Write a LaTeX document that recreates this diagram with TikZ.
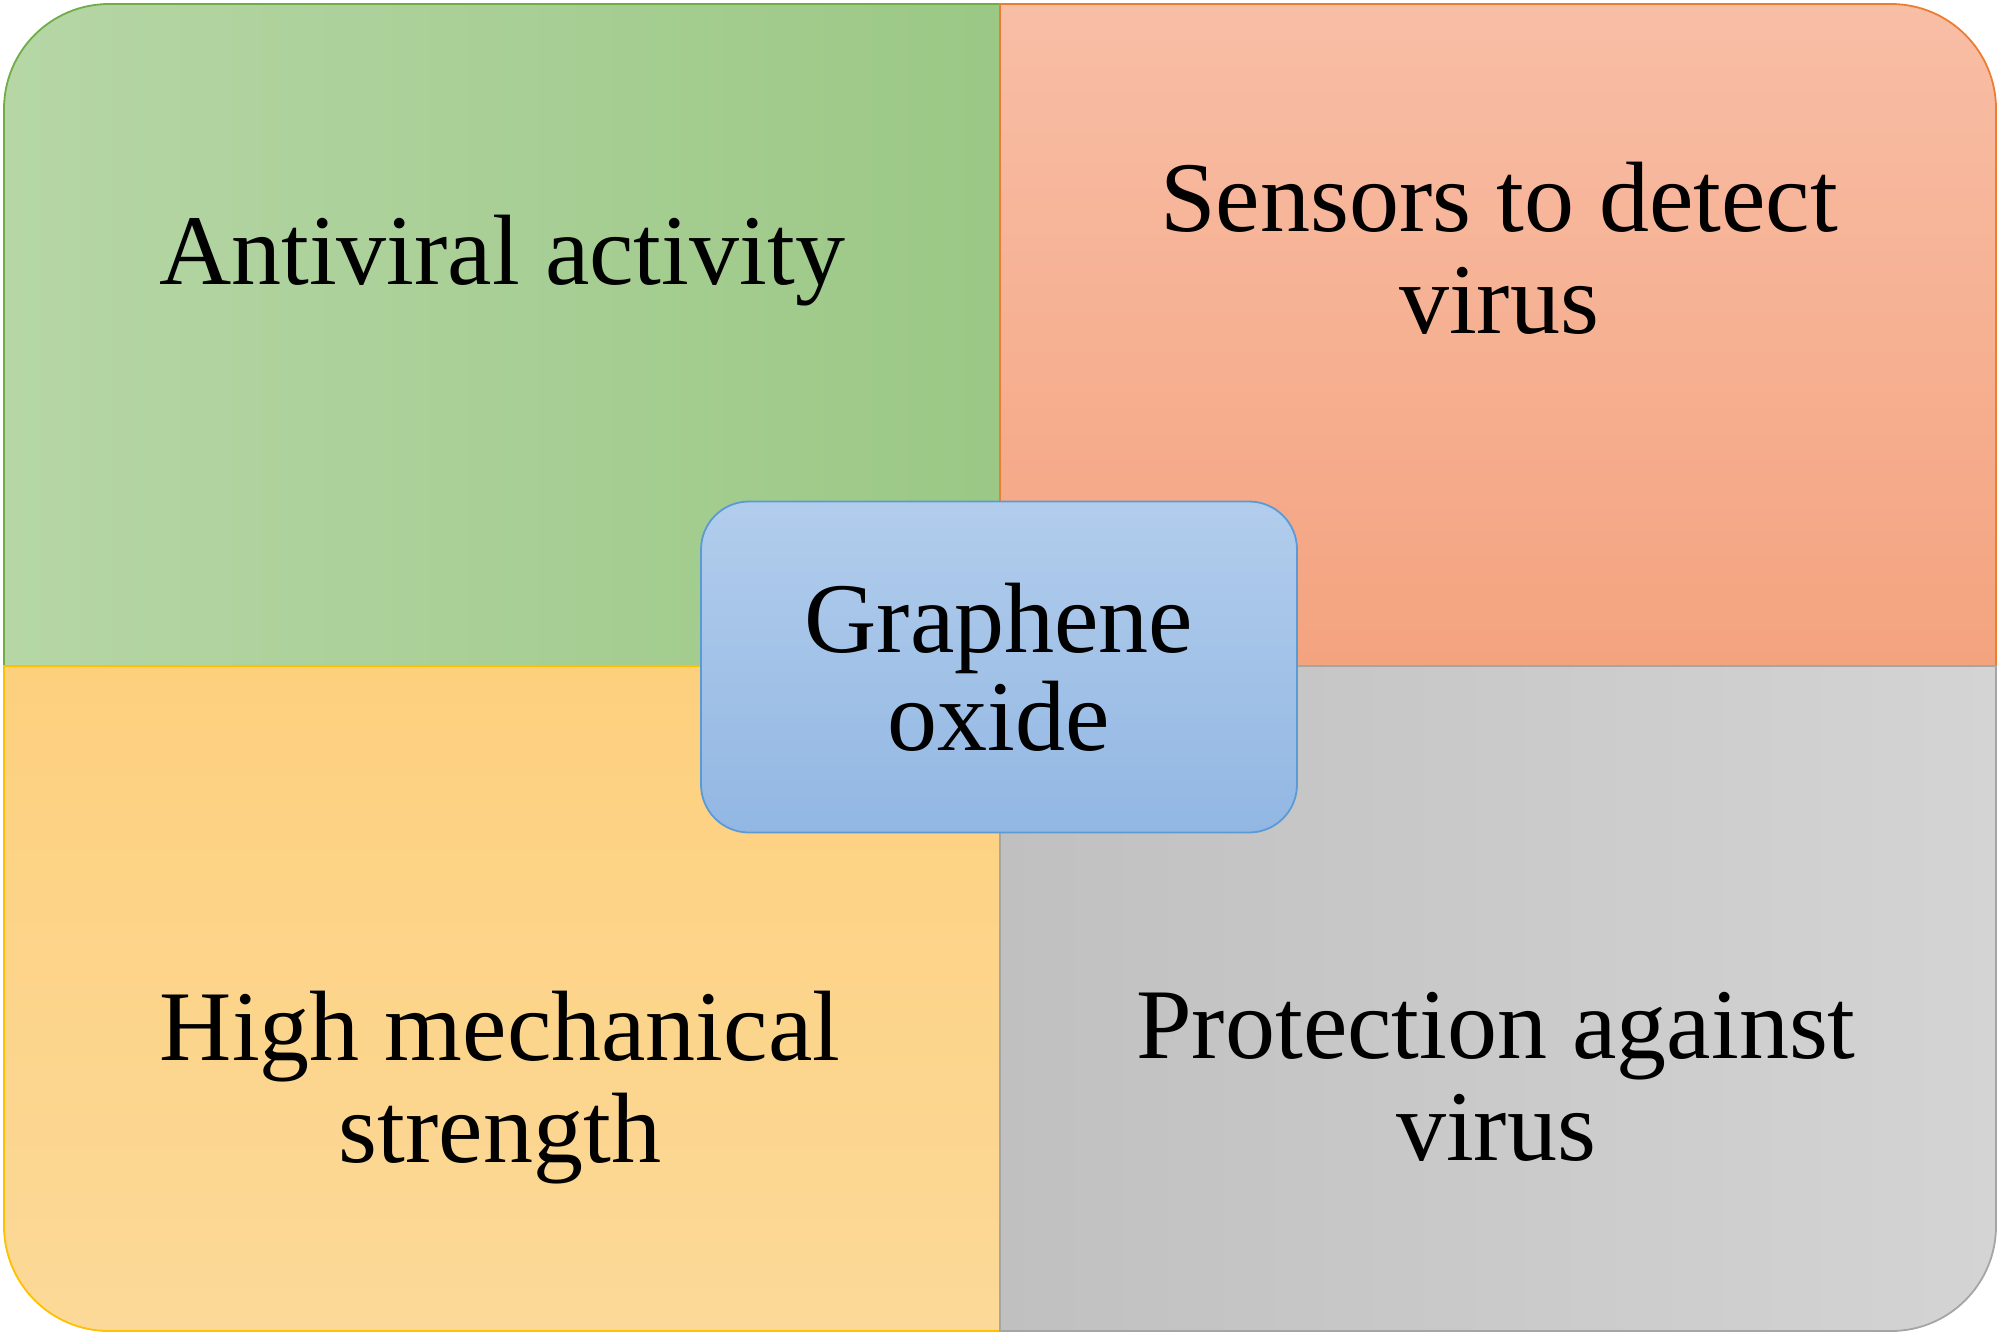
\documentclass[tikz,border=0pt]{standalone}
\usepackage{fontspec}
\setmainfont{Liberation Serif}
\definecolor{gA}{RGB}{182,214,166}
\definecolor{gB}{RGB}{155,200,133}
\definecolor{gL}{RGB}{112,173,71}
\definecolor{oA}{RGB}{248,190,166}
\definecolor{oB}{RGB}{244,163,127}
\definecolor{oL}{RGB}{237,125,49}
\definecolor{yA}{RGB}{253,208,126}
\definecolor{yB}{RGB}{252,217,152}
\definecolor{yL}{RGB}{255,192,0}
\definecolor{sA}{RGB}{192,192,192}
\definecolor{sB}{RGB}{212,212,212}
\definecolor{sL}{RGB}{165,165,165}
\definecolor{bA}{RGB}{178,205,236}
\definecolor{bB}{RGB}{146,183,227}
\definecolor{bL}{RGB}{91,155,213}
\begin{document}
\begin{tikzpicture}[x=0.5pt,y=-0.5pt,
  quad/.style={line width=0.9pt},
  lbl/.style={font=\fontsize{50pt}{51pt}\selectfont, align=center, inner sep=0pt, text=black},
  core/.style={draw=bL, line width=0.9pt, top color=bA, bottom color=bB,
    rounded corners=24pt, minimum width=298pt, minimum height=165.5pt,
    font=\fontsize{50pt}{49pt}\selectfont, align=center, inner sep=0pt}]
\useasboundingbox (0,0) rectangle (2000,1335);
% top-left
\path[quad, draw=gL, left color=gA, right color=gB]
  (1000,666) -- (4,666) -- (4,109) arc[start angle=180,end angle=90,radius=52.5pt] -- (1000,4) -- cycle;
% top-right
\path[quad, draw=oL, top color=oA, bottom color=oB]
  (1000,4) -- (1891,4) arc[start angle=90,end angle=0,radius=52.5pt] -- (1996,666) -- (1000,666) -- cycle;
% bottom-left
\path[quad, draw=yL, top color=yA, bottom color=yB]
  (1000,1331) -- (109,1331) arc[start angle=270,end angle=180,radius=52.5pt] -- (4,666) -- (1000,666) -- cycle;
% bottom-right
\path[quad, draw=sL, left color=sA, right color=sB]
  (1000,666) -- (1996,666) -- (1996,1226) arc[start angle=0,end angle=-90,radius=52.5pt] -- (1000,1331) -- cycle;
% labels
\node[lbl, anchor=base] (anti) at (502,284) {Antiviral activity};
\node[lbl] (sens) at (1499,248) {Sensors to detect\\virus};
\node[lbl] (mech) at (500,1088) {High mechanical\\strength};
\node[lbl] (prot) at (1496,1077) {Protection against\\virus};
% centre
\node[core] (go) at (999,667) {Graphene\\oxide};
\end{tikzpicture}
\end{document}
